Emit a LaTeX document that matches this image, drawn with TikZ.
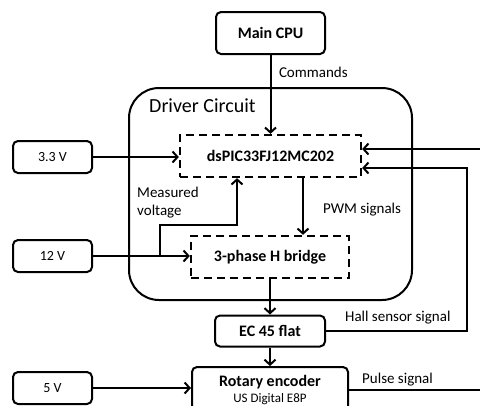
\documentclass[tikz,border=0pt]{standalone}
\usepackage{fontspec}
\setmainfont{Carlito}
\usetikzlibrary{arrows.meta, positioning, calc}

\begin{document}
\begin{tikzpicture}[x=1pt, y=-1pt,
    block/.style ={rectangle, rounded corners=5pt, draw=black, line width=2pt, align=center, font=\bfseries\fontsize{16}{19}\selectfont},
    supply/.style={rectangle, rounded corners=5pt, draw=black, line width=2pt, minimum width=79pt, minimum height=32pt, font=\fontsize{14}{17}\selectfont},
    chip/.style  ={rectangle, draw=black, line width=2.3pt, dash pattern=on 8pt off 5pt, font=\bfseries\fontsize{16}{19}\selectfont},
    sig/.style   ={-{Straight Barb[length=5pt, width=11pt]}, line width=2pt},
    lbl/.style   ={anchor=west, inner sep=0pt, align=left, font=\fontsize{15}{18}\selectfont}
]
\useasboundingbox (0,0) rectangle (480,405);
\clip (0,0) rectangle (480,405);
% --- driver circuit frame (behind everything) ---
\node[draw=black, rounded corners=30pt, line width=2pt, minimum width=283pt, minimum height=212pt] (driver) at (270.5,194) {};
\node[anchor=west, inner sep=0pt, font=\fontsize{20}{24}\selectfont] (drvlbl) at (149,106) {Driver Circuit};

% --- main blocks ---
\node[block, minimum width=109pt, minimum height=42pt] (cpu) at (270.5,33) {Main CPU};
\node[chip, minimum width=181pt, minimum height=42pt] (pic) at (270.5,156) {dsPIC33FJ12MC202};
\node[chip, minimum width=158pt, minimum height=42pt] (hbridge) at (270,257) {3-phase H bridge};
\node[block, minimum width=110pt, minimum height=31pt] (motor) at (270,331) {EC 45 flat};
\node[block, minimum width=156pt, minimum height=46pt] (encoder) at (270,390) {Rotary encoder\\[-3pt]{\mdseries\fontsize{13}{15}\selectfont US Digital E8P}};

% --- supplies ---
\node[supply] (v33) at (52.5,157) {3.3 V};
\node[supply] (v12) at (52.5,256) {12 V};
\node[supply] (v5)  at (52.5,388) {5 V};

% --- commands and supply lines ---
\draw[sig] (cpu) -- node[lbl, pos=0.22, xshift=7.5pt]{Commands} (pic);
\draw[sig] (v33.east) -- (v33.east -| pic.west);
\draw[sig] (v12.east) -- (v12.east -| hbridge.west);
\draw[sig] (v5.east) -- (v5.east -| encoder.west);

% measured voltage tapped from the 12 V line
\coordinate (tap) at ($(v12.east -| hbridge.west)+(-30,0)$);
\coordinate (mvbend) at (237,225);
\draw[sig] (tap) |- (mvbend) -- (mvbend |- pic.south);
\node[lbl, anchor=north west] (mvlbl) at (137,187) {Measured\\voltage};

% PWM signals
\draw[sig] ($(pic.south)+(32.5,0)$) -- node[lbl, pos=0.56, xshift=19pt]{PWM signals} ($(hbridge.north)+(33,0)$);

% power stage to motor to encoder
\draw[sig] (hbridge) -- (motor);
\draw[sig] (motor) -- (encoder);

% ============ feedback ============
\draw[sig] (motor.east) -- ++(141,0) |- ($(pic.east)+(0,12)$);
\node[lbl] (halllbl) at (345,318) {Hall sensor signal};
\draw[sig] (encoder.east) -- ++(150,0) |- ($(pic.east)+(0,-7)$);
\node[lbl] (pulselbl) at (362,380) {Pulse signal};
\end{tikzpicture}
\end{document}
